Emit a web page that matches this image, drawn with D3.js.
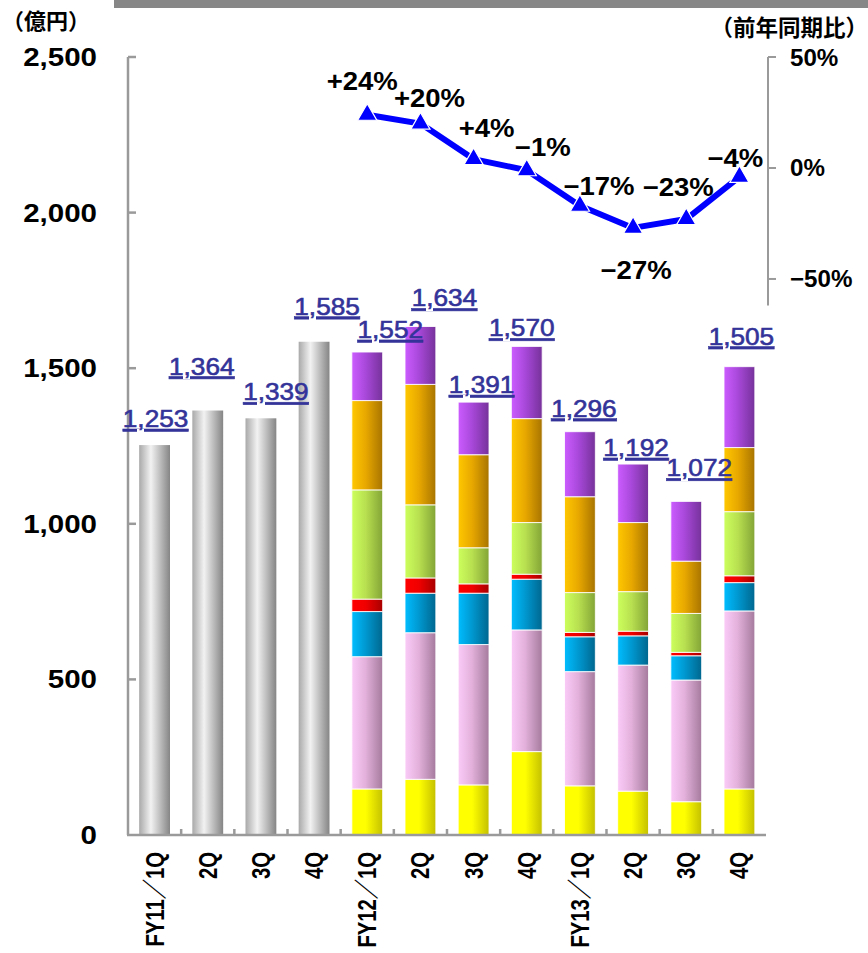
<!DOCTYPE html>
<html>
<head>
<meta charset="utf-8">
<script src="https://cdn.jsdelivr.net/npm/d3@7"></script>
<style>
  html, body { margin: 0; padding: 0; background: #fff; }
  svg { display: block; }
  text { font-family: "Liberation Sans", Arial, "Noto Sans CJK JP", sans-serif; }
  .cjk { font-family: "Noto Sans CJK JP", "Noto Sans", sans-serif; }
</style>
</head>
<body>
<svg id="chart" width="868" height="953"></svg>
<script>
// Quarterly sales (100 million yen) and year-on-year change
const quarters = ["FY11／1Q", "2Q", "3Q", "4Q", "FY12／1Q", "2Q", "3Q", "4Q", "FY13／1Q", "2Q", "3Q", "4Q"];
const totals = [1253, 1364, 1339, 1585, 1552, 1634, 1391, 1570, 1296, 1192, 1072, 1505];

// Segment breakdown, available from FY12/1Q onward (bottom to top)
const yellowSeg = [148, 179, 161, 268, 158, 141, 107, 148];
const pinkSeg   = [425, 471, 451, 391, 367, 405, 391, 572];
const blueSeg   = [145, 127, 165, 163, 112,  94,  78,  91];
const redSeg    = [ 40,  49,  30,  16,  14,  15,  11,  22];
const greenSeg  = [351, 235, 116, 166, 128, 127, 125, 206];
const orangeSeg = [287, 387, 299, 334, 308, 222, 168, 206];
const purpleSeg = [156, 186, 169, 232, 209, 188, 192, 260];

// Year-on-year change (%), FY12/1Q onward
const yoyGrowth = [24, 20, 4, -1, -17, -27, -23, -4];

const leftTicks = [0, 500, 1000, 1500, 2000, 2500];
const rightTicks = [50, 0, -50];

// ---- layout ----
const W = 868, H = 953;
const plot = { left: 128, right: 766, top: 57, bottom: 835 };
const firstSegIndex = 4;

// hand-placed label offsets (dx, dy) so labels clear the bars and the line
const totalLabelNudge = [[1,-18],[-6,-36],[15,-18],[13,-27],[23,-14],[24,-20],[8,-9],[-5,-10],[4,-15],[3,-8],[13,-25],[2,-22]];
const yoyLabelNudge = [[-5,-25],[9,-17],[13,-22],[16,-14],[19,-11],[3,51],[-8,-23],[-4,-10]];

const seriesKeys = ["yellow", "pink", "blue", "red", "green", "orange", "purple"];
const seriesArrays = [yellowSeg, pinkSeg, blueSeg, redSeg, greenSeg, orangeSeg, purpleSeg];
const seriesGrad = {
  yellow: ["#FFFF00", "#FFFF00", "#C4C000"],
  pink:   ["#FBCBF8", "#E2B0DA", "#A57A9E"],
  blue:   ["#00BDFF", "#0098D0", "#00678F"],
  red:    ["#FF0000", "#F00000", "#A80000"],
  green:  ["#CCFF5C", "#B8E050", "#83A436"],
  orange: ["#FFC800", "#E8A800", "#A87400"],
  purple: ["#CC5CFF", "#A848DA", "#76329A"]
};

const svg = d3.select("#chart");
const defs = svg.append("defs");

Object.entries(seriesGrad).forEach(([k, c]) => {
  const g = defs.append("linearGradient").attr("id", "g-" + k)
    .attr("x1", 0).attr("x2", 1).attr("y1", 0).attr("y2", 0);
  g.append("stop").attr("offset", "0%").attr("stop-color", c[0]);
  g.append("stop").attr("offset", "45%").attr("stop-color", c[1]);
  g.append("stop").attr("offset", "100%").attr("stop-color", c[2]);
});
const gray = defs.append("linearGradient").attr("id", "g-gray")
  .attr("x1", 0).attr("x2", 1).attr("y1", 0).attr("y2", 0);
[["0%", "#A9A9A9"], ["38%", "#F2F2F2"], ["100%", "#858585"]].forEach(([o, c]) =>
  gray.append("stop").attr("offset", o).attr("stop-color", c));

// header band
svg.append("rect").attr("x", 114).attr("y", 0).attr("width", W - 114).attr("height", 8).attr("fill", "#878787");

// ---- scales ----
const idx = d3.range(quarters.length);
const x = d3.scaleBand().domain(idx).range([plot.left, plot.right]).paddingInner(0.42).paddingOuter(0.21);
const y = d3.scaleLinear().domain([0, 2500]).range([plot.bottom, plot.top]);
const y2 = d3.scaleLinear().domain([-62, 50]).range([305.6, plot.top]);
const cx = i => x(i) + x.bandwidth() / 2;

// ---- gray bars (totals only) ----
svg.append("g").selectAll("rect")
  .data(idx.filter(i => i < firstSegIndex))
  .join("rect")
  .attr("x", i => x(i)).attr("width", x.bandwidth())
  .attr("y", i => y(totals[i])).attr("height", i => y(0) - y(totals[i]))
  .attr("fill", "url(#g-gray)");

// ---- stacked segment bars ----
const segRows = d3.range(yellowSeg.length).map(j => {
  const row = { i: j + firstSegIndex };
  seriesKeys.forEach((k, s) => row[k] = seriesArrays[s][j]);
  return row;
});
const stacked = d3.stack().keys(seriesKeys)(segRows);
svg.append("g").selectAll("g")
  .data(stacked)
  .join("g")
  .attr("fill", d => "url(#g-" + d.key + ")")
  .selectAll("rect")
  .data(d => d)
  .join("rect")
  .attr("x", d => x(d.data.i)).attr("width", x.bandwidth())
  .attr("y", d => y(d[1])).attr("height", d => y(d[0]) - y(d[1]))
  .attr("stroke", "rgba(255,255,255,0.85)").attr("stroke-width", 1);

// ---- axes ----
const axisColor = "#9A9A9A";
const axes = svg.append("g").attr("stroke", axisColor).attr("stroke-width", 2.5).attr("fill", "none");
axes.append("line").attr("x1", plot.left).attr("x2", plot.left).attr("y1", plot.top).attr("y2", plot.bottom);
axes.append("line").attr("x1", plot.left - 1).attr("x2", plot.right).attr("y1", plot.bottom).attr("y2", plot.bottom);
axes.selectAll(".lt").data(leftTicks.filter(v => v > 0)).join("line")
  .attr("x1", plot.left).attr("x2", plot.left + 8).attr("y1", v => y(v)).attr("y2", v => y(v));
axes.selectAll(".bt").data(d3.range(1, quarters.length)).join("line")
  .attr("x1", i => x(i) - x.step() * x.paddingInner() / 2).attr("x2", i => x(i) - x.step() * x.paddingInner() / 2)
  .attr("y1", plot.bottom).attr("y2", plot.bottom - 6);

// right axis
const rAxis = svg.append("g").attr("stroke", axisColor).attr("stroke-width", 2).attr("fill", "none");
rAxis.append("line").attr("x1", 768).attr("x2", 768).attr("y1", y2.range()[1]).attr("y2", y2.range()[0]);
rAxis.selectAll("line.t").data(rightTicks).join("line").attr("class", "t")
  .attr("x1", 768).attr("x2", 776).attr("y1", v => y2(v)).attr("y2", v => y2(v));

// left tick labels
const fmt = d3.format(",");
svg.append("g").selectAll("text").data(leftTicks).join("text")
  .attr("text-anchor", "end").attr("font-size", 25).attr("font-weight", "bold").attr("fill", "#000")
  .attr("transform", v => `translate(97,${y(v) + 9}) scale(1.18,1)`)
  .text(v => fmt(v));

// right tick labels
svg.append("g").selectAll("text").data(rightTicks).join("text")
  .attr("text-anchor", "start").attr("font-size", 23).attr("font-weight", "bold").attr("fill", "#000")
  .attr("transform", v => `translate(790,${y2(v) + 8.5}) scale(1.05,1)`)
  .text(v => (v < 0 ? "−" + Math.abs(v) : v) + "%");

// category labels (rotated)
svg.append("g").selectAll("text").data(idx).join("text")
  .attr("text-anchor", "end").attr("font-size", 25).attr("font-weight", "bold").attr("fill", "#000")
  .attr("transform", i => `translate(${cx(i) + 9},852) scale(1,0.81) rotate(-90)`)
  .text(i => quarters[i]);

// unit captions
svg.append("text").attr("class", "cjk").attr("x", 2).attr("y", 29)
  .attr("font-size", 22).attr("font-weight", "bold").attr("fill", "#000").text("（億円）");
svg.append("text").attr("class", "cjk").attr("x", 868).attr("y", 36).attr("text-anchor", "end")
  .attr("font-size", 22.5).attr("font-weight", "bold").attr("fill", "#000").text("（前年同期比）");

// total value labels
svg.append("g").selectAll("text").data(idx).join("text")
  .attr("text-anchor", "middle").attr("font-size", 24.5).attr("fill", "#333399")
  .attr("stroke", "#333399").attr("stroke-width", 0.6)
  .attr("text-decoration", "underline")
  .attr("transform", i => `translate(${cx(i) + totalLabelNudge[i][0]},${y(totals[i]) + totalLabelNudge[i][1]}) scale(1.07,1)`)
  .text(i => fmt(totals[i]));

// ---- YoY line ----
const yoyPts = yoyGrowth.map((v, j) => ({ i: j + firstSegIndex, v, j }));
const line = d3.line().x(d => cx(d.i)).y(d => y2(d.v));
svg.append("path").datum(yoyPts).attr("d", line)
  .attr("fill", "none").attr("stroke", "#0000FF").attr("stroke-width", 6).attr("stroke-linejoin", "round");
svg.append("g").selectAll("path").data(yoyPts).join("path")
  .attr("d", d3.symbol(d3.symbolTriangle, 160))
  .attr("transform", d => `translate(${cx(d.i)},${y2(d.v)})`)
  .attr("fill", "#0000FF").attr("stroke", "#fff").attr("stroke-width", 1.2);

svg.append("g").selectAll("text").data(yoyPts).join("text")
  .attr("text-anchor", "middle").attr("font-size", 25).attr("font-weight", "bold").attr("fill", "#000")
  .attr("transform", d => `translate(${cx(d.i) + yoyLabelNudge[d.j][0]},${y2(d.v) + yoyLabelNudge[d.j][1]}) scale(1.1,1)`)
  .text(d => (d.v > 0 ? "+" : d.v < 0 ? "−" : "") + Math.abs(d.v) + "%");
</script>
</body>
</html>
